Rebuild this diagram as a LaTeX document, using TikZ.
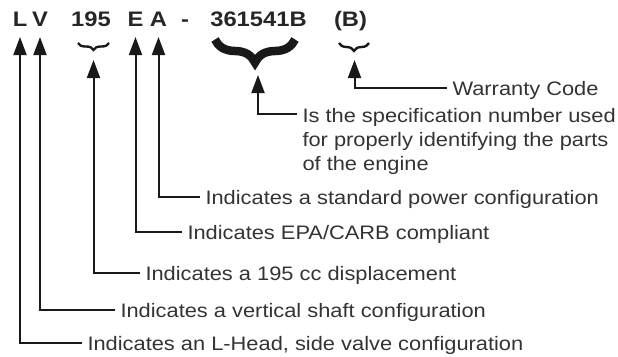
\documentclass[tikz,border=0pt]{standalone}
\usepackage{fontspec}
\usetikzlibrary{arrows.meta,decorations.pathreplacing}
\newfontfamily\codefont[FakeStretch=1.13]{Liberation Sans}
\newfontfamily\descfont[FakeStretch=1.12]{Liberation Sans}

\begin{document}
\begin{tikzpicture}[x=1pt,y=-1pt,line width=2pt,draw=black!90,
  arr/.style={-{Triangle[length=18pt,width=13pt]}},
  code/.style={font=\codefont\bfseries\fontsize{21}{25}\selectfont,text=black!85,inner sep=0pt,text depth=0pt,outer ysep=10pt,anchor=base},
  txt/.style={font=\descfont\fontsize{19.5}{24}\selectfont,text=black!80,inner ysep=0pt,inner xsep=4.5pt},
  desc/.style={txt,text height=14pt,text depth=0pt,anchor=west},
  brc/.style={decorate,decoration={brace,mirror,amplitude=#1}}]
\useasboundingbox (0,0) rectangle (618,356);
% model number
\node[code] (lL) at (20,27) {L};
\node[code] (lV) at (40,27) {V};
\node[code] (l195) at (91,27) {195};
\node[code] (lE) at (135.5,27) {E};
\node[code] (lA) at (158.5,27) {A};
\node[code] (lDash) at (185,27) {-};
\node[code] (lSpec) at (258.5,27) {361541B};
\node[code] (lW) at (350.5,27) {(B)};
% braces
\draw[brc=7pt,line width=2.4pt] (78,43) -- (109,43);
\draw[brc=23pt,line width=8.5pt] (215,39.5) -- (295,39.5);
\draw[brc=8pt,line width=2.4pt] (339,43) -- (369,43);
\coordinate (t195) at (93.5,60);
\coordinate (tSpec) at (258,75);
\coordinate (tW) at (354.5,60);
% meanings
\node[desc] (dW) at (447,88) {Warranty Code};
\node[txt,align=left,anchor=north west] (dSpec) at (297,107) {Is the specification number used\\for properly identifying the parts\\of the engine};
\node[desc] (dA) at (200,197) {Indicates a standard power configuration};
\node[desc] (dE) at (182,232) {Indicates EPA/CARB compliant};
\node[desc] (d195) at (140,273) {Indicates a 195 cc displacement};
\node[desc] (dV) at (115,310) {Indicates a vertical shaft configuration};
\node[desc] (dL) at (82,343) {Indicates an L-Head, side valve configuration};
% arrows
\draw[arr] (dW.west) -| (tW);
\draw[arr] ([yshift=-7pt]dSpec.north west) -| (tSpec);
\draw[arr] (dA.west) -| (lA.south);
\draw[arr] (dE.west) -| (lE.south);
\draw[arr] (d195.west) -| (t195);
\draw[arr] (dV.west) -| (lV.south);
\draw[arr] (dL.west) -| (lL.south);
\end{tikzpicture}
\end{document}
